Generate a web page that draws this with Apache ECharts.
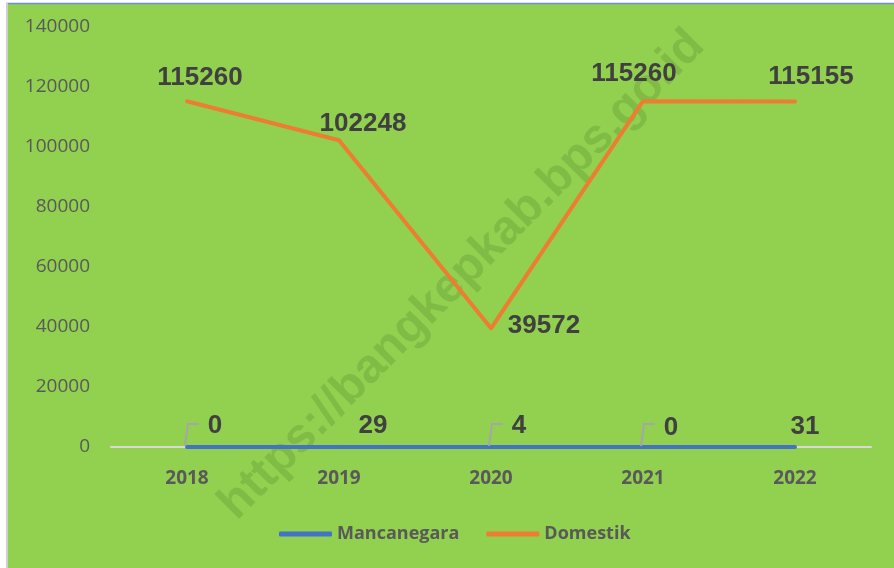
<!DOCTYPE html>
<html>
<head>
<meta charset="utf-8">
<script src="https://cdn.jsdelivr.net/npm/echarts@6/dist/echarts.min.js"></script>
<style>
  html, body { margin: 0; padding: 0; background: #fff; }
  #chart { width: 894px; height: 568px; }
</style>
</head>
<body>
<div id="chart"></div>
<script>
// data
var years = ["2018", "2019", "2020", "2021", "2022"];
var mancanegara = [0, 29, 4, 0, 31];
var domestik = [115260, 102248, 39572, 115260, 115155];
var yTicks = { min: 0, max: 140000, interval: 20000 };

// label offsets (from point centre)
var domOffsets = [[13, -23], [24, -16], [53, -2], [-9, -27], [16, -25]];
var manOffsets = [[28, -21], [34, -21], [28, -21], [28, -19], [10, -20]];
var manLeader = [true, false, true, true, false];

var labelFont = {
  fontFamily: "Liberation Sans",
  fontWeight: "bold",
  fontSize: 26,
  color: "#404040",
};

var myChart = echarts.init(document.getElementById("chart"));

var domData = domestik.map(function (v, i) {
  return { value: v, label: { offset: domOffsets[i] } };
});
var manData = mancanegara.map(function (v, i) {
  return { value: v, label: { offset: manOffsets[i] } };
});
// leader lines only for the labels that have them
var leaderData = [];
mancanegara.forEach(function (v, i) {
  if (manLeader[i]) leaderData.push([i, v]);
});

var option = {
  backgroundColor: "#92D050",
  animation: false,
  grid: { left: 111, right: 23, top: 27, bottom: 121 },
  xAxis: {
    type: "category",
    data: years,
    boundaryGap: true,
    axisLine: { lineStyle: { color: "#D9D9D9", width: 2 } },
    axisTick: { show: false },
    axisLabel: {
      margin: 22,
      color: "#595959",
      fontFamily: "Open Sans",
      fontWeight: "bold",
      fontSize: 19,
    },
  },
  yAxis: {
    type: "value",
    min: yTicks.min,
    max: yTicks.max,
    interval: yTicks.interval,
    axisLine: { show: false },
    axisTick: { show: false },
    splitLine: { show: false },
    axisLabel: {
      margin: 21,
      color: "#595959",
      fontFamily: "Open Sans",
      fontSize: 19,
      formatter: function (v) { return String(v); },
    },
  },
  legend: {
    data: ["Mancanegara", "Domestik"],
    left: 274,
    top: 520,
    icon: "roundRect",
    itemWidth: 53,
    itemHeight: 5,
    itemGap: 27,
    textStyle: {
      color: "#595959",
      fontFamily: "Open Sans",
      fontWeight: "bold",
      fontSize: 18,
    },
  },
  graphic: [
    {
      type: "text",
      x: 462,
      y: 275,
      rotation: 0.79,
      silent: true,
      z: 1,
      style: {
        text: "https://bangkepkab.bps.go.id",
        font: "bold 48px 'Liberation Sans'",
        fill: "rgba(70,120,40,0.24)",
        textAlign: "center",
        textVerticalAlign: "middle",
      },
    },
    { type: "rect", shape: { x: 0, y: 0, width: 894, height: 3 }, style: { fill: "#fff" }, silent: true },
    { type: "rect", shape: { x: 0, y: 0, width: 6, height: 568 }, style: { fill: "#fff" }, silent: true },
    { type: "line", shape: { x1: 6, y1: 3.5, x2: 894, y2: 3.5 }, style: { stroke: "#6E8FD6", lineWidth: 1.5 }, silent: true },
    { type: "line", shape: { x1: 7, y1: 3, x2: 7, y2: 568 }, style: { stroke: "#CFCFCF", lineWidth: 2 }, silent: true },
  ],
  series: [
    {
      name: "Mancanegara",
      type: "line",
      data: manData,
      symbol: "circle",
      symbolSize: 1,
      color: "#4472C4",
      lineStyle: { width: 4, cap: "round", color: "#4472C4" },
      label: Object.assign({ show: true, position: "inside" }, labelFont),
      z: 3,
    },
    {
      name: "Domestik",
      type: "line",
      data: domData,
      symbol: "circle",
      symbolSize: 1,
      color: "#ED7D31",
      lineStyle: { width: 4, cap: "round", join: "round", color: "#ED7D31" },
      label: Object.assign({ show: true, position: "inside" }, labelFont),
      z: 2,
    },
    {
      name: "leader",
      type: "custom",
      data: leaderData,
      silent: true,
      z: 4,
      renderItem: function (params, api) {
        var p = api.coord([api.value(0), api.value(1)]);
        return {
          type: "polyline",
          shape: {
            points: [[p[0] - 2, p[1] - 1], [p[0] + 1, p[1] - 23], [p[0] + 12, p[1] - 23]],
          },
          style: { stroke: "#A6A6A6", lineWidth: 2, fill: null },
        };
      },
    },
  ],
};
myChart.setOption(option);
</script>
</body>
</html>
